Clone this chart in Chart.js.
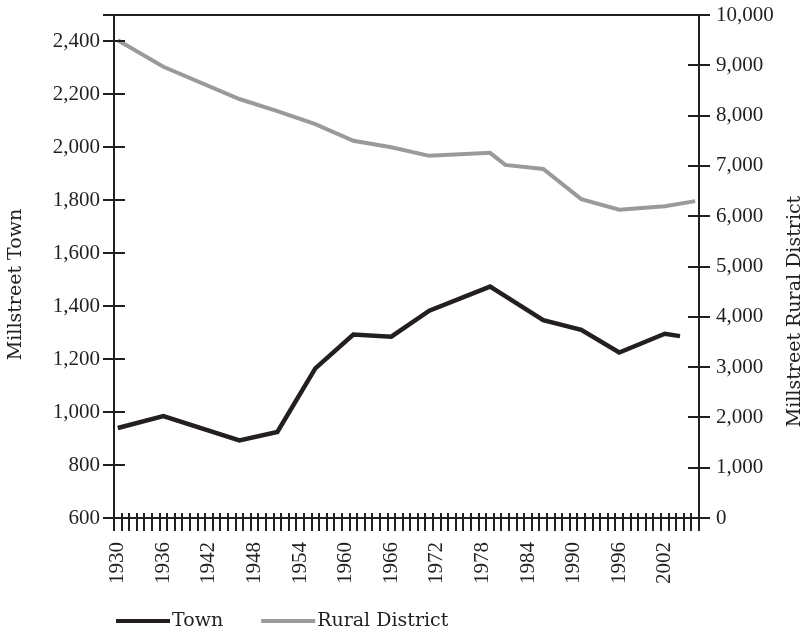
<!DOCTYPE html>
<html>
<head>
<meta charset="utf-8">
<script src="https://cdn.jsdelivr.net/npm/chart.js@4.4.0/dist/chart.umd.min.js"></script>
<style>
  html, body { margin: 0; padding: 0; background: #fff; }
</style>
</head>
<body>
<canvas id="popChart" width="807" height="635"></canvas>
<script>
// category axis: one slot per year
const years = Array.from({ length: 77 }, (_, i) => String(1930 + i));
const xTickLabels = ['1930', '1936', '1942', '1948', '1954', '1960', '1966', '1972', '1978', '1984', '1990', '1996', '2002'];

// Millstreet Town (left axis)
const townYears  = ['1930', '1936', '1946', '1951', '1956', '1961', '1966', '1971', '1979', '1981', '1986', '1991', '1996', '2002', '2004'];
const townValues = [940, 985, 893, 925, 1165, 1293, 1285, 1383, 1474, 1438, 1347, 1311, 1225, 1296, 1287];

// Millstreet Rural District (right axis)
const ruralYears  = ['1930', '1936', '1946', '1951', '1956', '1961', '1966', '1971', '1979', '1981', '1986', '1991', '1996', '2002', '2006'];
const ruralValues = [9500, 8970, 8330, 8090, 7830, 7500, 7370, 7200, 7260, 7020, 6940, 6340, 6130, 6200, 6300];

const leftTicks  = [600, 800, 1000, 1200, 1400, 1600, 1800, 2000, 2200, 2400, 2500];
const rightTicks = [0, 1000, 2000, 3000, 4000, 5000, 6000, 7000, 8000, 9000, 10000];

const ink = '#231f20';
const grey = '#9a9a9a';
const FONT = "'Liberation Serif', 'Times New Roman', serif";
const WORD_FONT = "'DejaVu Serif', serif";   // wider face for the words, closer to the book's Palatino
const fontSpec = { family: FONT, size: 21 };

// ticks in the reference cross the axis line, chart.js only draws the outer half
const innerTicks = {
    id: 'innerTicks',
    afterDraw(chart) {
        const { x, y, y1 } = chart.scales;
        const ctx = chart.ctx;
        ctx.save();
        ctx.strokeStyle = ink;
        ctx.lineWidth = 2;
        ctx.beginPath();
        y.ticks.forEach(t => {
            const py = Math.round(y.getPixelForValue(t.value));
            ctx.moveTo(y.right, py); ctx.lineTo(y.right + 11, py);
        });
        y1.ticks.forEach(t => {
            const py = Math.round(y1.getPixelForValue(t.value));
            ctx.moveTo(y1.left, py); ctx.lineTo(y1.left - 11, py);
        });
        for (let i = 0; i <= years.length; i++) {
            const px = Math.round(x.getPixelForValue(i - 0.5));
            ctx.moveTo(px, x.top); ctx.lineTo(px, x.top - 5);
        }
        ctx.stroke();
        ctx.restore();
    }
};

// both axis titles read bottom-to-top
const sideTitles = {
    id: 'sideTitles',
    afterDraw(chart) {
        const { y, y1 } = chart.scales;
        const area = chart.chartArea;
        const mid = (area.top + area.bottom) / 2;
        const ctx = chart.ctx;
        ctx.save();
        ctx.fillStyle = ink;
        ctx.font = `19px ${WORD_FONT}`;
        ctx.textAlign = 'center';
        ctx.textBaseline = 'middle';
        [[y, y.left + 16, mid + 18], [y1, y1.right - 12, mid + 45]].forEach(([s, tx, ty]) => {
            ctx.save();
            ctx.translate(tx, ty);
            ctx.rotate(-Math.PI / 2);
            ctx.fillText(s.options.title.text, 0, 0);
            ctx.restore();
        });
        ctx.restore();
    }
};

// legend: line sample sitting right against its label
const lineLegend = {
    id: 'lineLegend',
    afterDraw(chart) {
        const ctx = chart.ctx;
        const area = chart.chartArea;
        let lx = area.left + 2;
        const ly = area.bottom + 103;
        ctx.save();
        ctx.font = `19px ${WORD_FONT}`;
        ctx.textBaseline = 'middle';
        ctx.textAlign = 'left';
        chart.data.datasets.forEach(ds => {
            ctx.strokeStyle = ds.borderColor;
            ctx.lineWidth = 4;
            ctx.beginPath();
            ctx.moveTo(lx, ly); ctx.lineTo(lx + 54, ly);
            ctx.stroke();
            ctx.fillStyle = ink;
            ctx.fillText(ds.label, lx + 56, ly);
            lx += 56 + ctx.measureText(ds.label).width + 38;
        });
        ctx.restore();
    }
};

// the plot frame sits 15px from the top, so drop the label overflow padding
const noVPad = s => { s.paddingTop = 0; s.paddingBottom = 0; };

new Chart(document.getElementById('popChart'), {
    type: 'line',
    data: {
        labels: years,
        datasets: [
            {
                label: 'Town',
                data: townYears.map((yr, i) => ({ x: yr, y: townValues[i] })),
                borderColor: ink,
                borderWidth: 4.5,
                pointRadius: 0,
                yAxisID: 'y'
            },
            {
                label: 'Rural District',
                data: ruralYears.map((yr, i) => ({ x: yr, y: ruralValues[i] })),
                borderColor: grey,
                borderWidth: 4,
                pointRadius: 0,
                yAxisID: 'y1'
            }
        ]
    },
    options: {
        responsive: false,
        animation: false,
        layout: { padding: { top: 15, left: 0, right: 0, bottom: 0 } },
        plugins: { legend: { display: false }, tooltip: { enabled: false } },
        scales: {
            x: {
                type: 'category',
                offset: true,
                grid: { offset: true, drawOnChartArea: false, color: ink, tickColor: ink, tickLength: 13, lineWidth: 2 },
                border: { color: ink, width: 2 },
                ticks: {
                    autoSkip: false,
                    minRotation: 90,
                    maxRotation: 90,
                    padding: 11,
                    color: ink,
                    font: fontSpec,
                    callback: (v, i) => xTickLabels.includes(years[i]) ? years[i] : ''
                },
                afterFit: s => { s.height = 117; s.paddingLeft = 0; s.paddingRight = 0; }
            },
            y: {
                position: 'left',
                min: 600,
                max: 2500,
                title: { display: false, text: 'Millstreet Town' },
                afterBuildTicks: s => { s.ticks = leftTicks.map(v => ({ value: v })); },
                grid: {
                    color: c => (c.tick && c.tick.value === 2500) ? ink : 'rgba(0,0,0,0)',
                    tickColor: ink,
                    tickLength: 11,
                    lineWidth: 2
                },
                border: { color: ink, width: 2 },
                ticks: {
                    padding: 3,
                    color: ink,
                    font: fontSpec,
                    callback: v => v === 2500 ? '' : v.toLocaleString('en-US')
                },
                afterFit: s => { s.width = 114; noVPad(s); }
            },
            y1: {
                position: 'right',
                min: 0,
                max: 10000,
                title: { display: false, text: 'Millstreet Rural District' },
                afterBuildTicks: s => { s.ticks = rightTicks.map(v => ({ value: v })); },
                grid: { drawOnChartArea: false, color: ink, tickColor: ink, tickLength: 11, lineWidth: 2 },
                border: { color: ink, width: 2 },
                ticks: {
                    padding: 6,
                    color: ink,
                    font: fontSpec,
                    callback: v => v.toLocaleString('en-US')
                },
                afterFit: s => { s.width = 108; noVPad(s); }
            }
        }
    },
    plugins: [innerTicks, sideTitles, lineLegend]
});
</script>
</body>
</html>
